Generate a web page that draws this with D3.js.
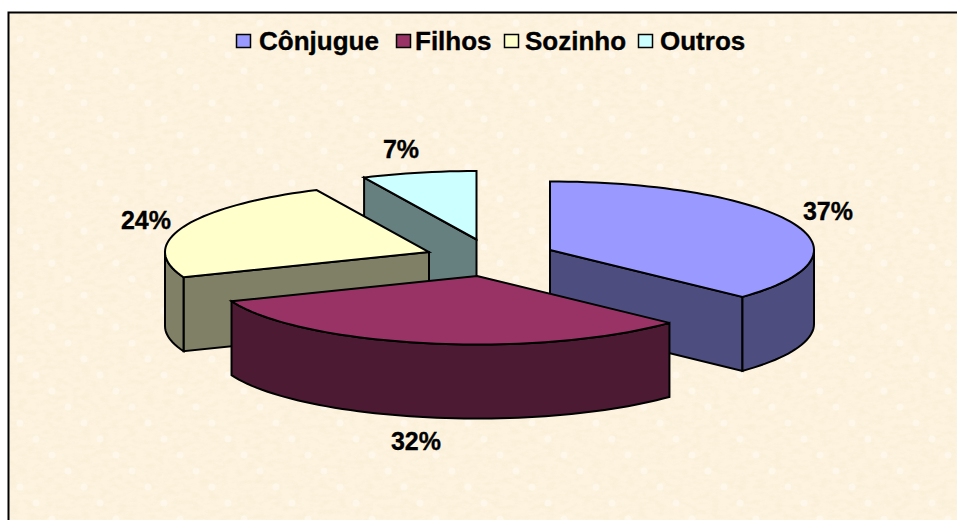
<!DOCTYPE html>
<html><head><meta charset="utf-8">
<script src="https://cdn.jsdelivr.net/npm/d3@7"></script>
<style>html,body{margin:0;padding:0;background:#fff}svg{display:block}text{font-family:"Liberation Sans",Arial,sans-serif;font-weight:bold;fill:#000;stroke:#000;stroke-width:.35px}</style>
</head><body><div id="c"></div>
<script>
const categories = ["Cônjugue","Filhos","Sozinho","Outros"];
const values = [37,32,24,7];
const labels = ["37%","32%","24%","7%"];
const topColors = ["#9999FF","#993366","#FFFFCC","#CCFFFF"];
const sideColors = ["#4D4D80","#4D1A33","#808066","#668080"];

const W=957,H=520;
const rx=264, ry=68.5, depth=74;
// exploded slice centres
const centres=[[550,250],[477,276],[429,252],[476.5,239.5]];
const labelPos=[[828,220],[416,450],[146,229],[401,158]];
const svg=d3.select("#c").append("svg").attr("width",W).attr("height",H);
const defs=svg.append("defs");
const flt=defs.append("filter").attr("id","tex").attr("x",0).attr("y",0).attr("width","100%").attr("height","100%");
flt.append("feTurbulence").attr("type","fractalNoise").attr("baseFrequency","0.11 0.2").attr("numOctaves",3).attr("seed",4).attr("stitchTiles","stitch");
flt.append("feColorMatrix").attr("values","0 0 0 0 0.93  0 0 0 0 0.82  0 0 0 0 0.62  1.6 0 0 0 -0.62");
const pat=defs.append("pattern").attr("id","specks").attr("width",64).attr("height",64).attr("patternUnits","userSpaceOnUse").attr("x",9).attr("y",13);
[[59,10],[27,42],[11,26],[43,58]].forEach(p=>pat.append("circle").attr("cx",p[0]).attr("cy",p[1]).attr("r",3.5).attr("fill","#FFFAF0").attr("opacity",.7));
svg.append("rect").attr("x",9).attr("y",13).attr("width",W).attr("height",H).attr("fill","#FDF3DF");
svg.append("rect").attr("x",9).attr("y",13).attr("width",W).attr("height",H).attr("filter","url(#tex)").attr("opacity",0.6);
svg.append("rect").attr("x",9).attr("y",13).attr("width",W).attr("height",H).attr("fill","url(#specks)");
svg.append("rect").attr("x",8.5).attr("y",12.5).attr("width",W+10).attr("height",H+10).attr("fill","none").attr("stroke","#000").attr("stroke-width",2);

const pie=d3.pie().sort(null).value(d=>d)(values);
const px=(i,a)=>centres[i][0]+rx*Math.sin(a);
const py=(i,a,z=0)=>centres[i][1]-ry*Math.cos(a)+z;
const line=d3.line();
const STEP=Math.PI/90;
const samp=(a0,a1)=>{const n=Math.max(1,Math.ceil((a1-a0)/STEP));return d3.range(n+1).map(k=>a0+(a1-a0)*k/n);};
const g=svg.append("g").attr("stroke","#000").attr("stroke-width",2).attr("stroke-linejoin","miter");

function wall(i,a){
  const c=centres[i];
  g.append("path").attr("fill",sideColors[i]).attr("d",line([[c[0],c[1]],[px(i,a),py(i,a)],[px(i,a),py(i,a,depth)],[c[0],c[1]+depth]])+"Z");
}
function rim(i,a0,a1){
  if(a1<=a0)return;
  const s=samp(a0,a1);
  const pts=s.map(a=>[px(i,a),py(i,a)]).concat(s.slice().reverse().map(a=>[px(i,a),py(i,a,depth)]));
  g.append("path").attr("fill",sideColors[i]).attr("d",line(pts)+"Z");
}
function topFace(i){
  const p=pie[i],c=centres[i];
  const pts=[c].concat(samp(p.startAngle,p.endAngle).map(a=>[px(i,a),py(i,a)]));
  g.append("path").attr("fill",topColors[i]).attr("d",line(pts)+"Z");
}
const hp=Math.PI/2,tp=3*Math.PI/2;
// back to front
wall(3,pie[3].startAngle); topFace(3);
wall(0,pie[0].endAngle); rim(0,hp,pie[0].endAngle); topFace(0);
wall(2,pie[2].startAngle); rim(2,pie[2].startAngle,tp); topFace(2);
rim(1,pie[1].startAngle,pie[1].endAngle); topFace(1);

labels.forEach((t,i)=>svg.append("text").attr("x",labelPos[i][0]).attr("y",labelPos[i][1]).attr("text-anchor","middle").attr("font-size",25).text(t));

// legend
const legendX=[236,396,504,638], legendTextX=[259,415,525,660];
categories.forEach((t,i)=>{
  svg.append("rect").attr("x",legendX[i]+.5).attr("y",34.5).attr("width",14).attr("height",13).attr("fill",topColors[i]).attr("stroke","#000").attr("stroke-width",1.5);
  svg.append("text").attr("x",legendTextX[i]).attr("y",50).attr("font-size",26).text(t);
});
</script></body></html>
